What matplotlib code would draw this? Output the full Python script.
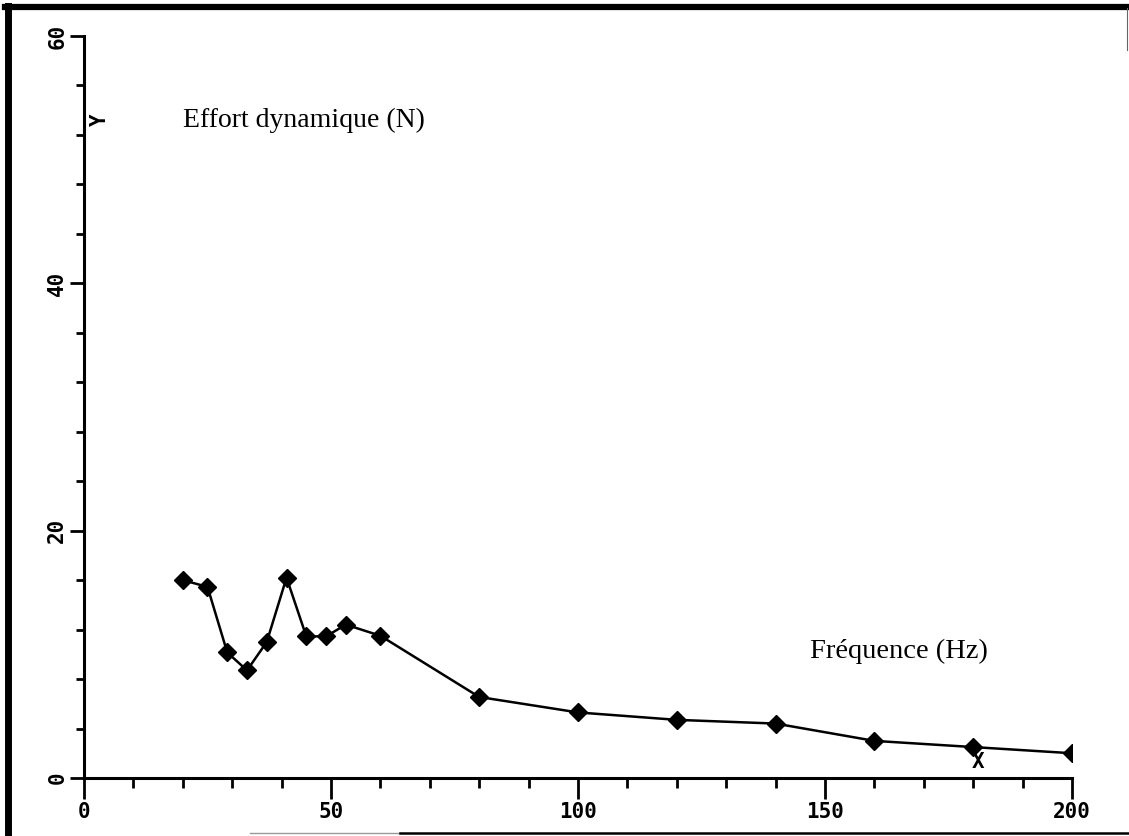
import numpy as np
import matplotlib.pyplot as plt
from matplotlib.lines import Line2D

# donnees
frequence = [20, 25, 29, 33, 37, 41, 45, 49, 53, 60, 80, 100, 120, 140, 160, 180, 200]
effort = [16.0, 15.45, 10.15, 8.7, 11.0, 16.2, 11.45, 11.45, 12.4, 11.5,
          6.55, 5.3, 4.7, 4.4, 3.0, 2.5, 2.0]
x_labels = ["0", "50", "100", "150", "200"]
y_labels = ["0", "20", "40", "60"]

fig = plt.figure(figsize=(11.29, 8.36), dpi=100)
ax = fig.add_axes([0.0744, 0.0694, 0.8751, 0.8876])

ax.plot(frequence, effort, color="black", linewidth=1.8, marker="D",
        markersize=9, markerfacecolor="black", markeredgecolor="black")

ax.set_xlim(0, 200)
ax.set_ylim(0, 60)
for s in ["top", "right"]:
    ax.spines[s].set_visible(False)
for s in ["left", "bottom"]:
    ax.spines[s].set_linewidth(2.2)

tick_font = dict(family="DejaVu Sans Mono", weight="bold", size=15)
ax.set_xticks([0, 50, 100, 150, 200])
ax.set_xticklabels(x_labels, **tick_font)
ax.set_xticks(np.arange(0, 201, 10), minor=True)
ax.set_yticks([0, 20, 40, 60])
ax.set_yticklabels(y_labels, rotation=90, va="center", **tick_font)
ax.set_yticks(np.arange(0, 61, 4), minor=True)
ax.tick_params(axis="x", which="major", direction="out", length=15, width=2, pad=2)
ax.tick_params(axis="x", which="minor", direction="out", length=7, width=2)
ax.tick_params(axis="y", which="major", direction="out", length=10, width=2, pad=2)
ax.tick_params(axis="y", which="minor", direction="out", length=6, width=2)

# etiquettes des axes
ax.text(1.2, 53.2, "Y", rotation=90, ha="left", va="center",
        family="DejaVu Sans Mono", weight="bold", fontsize=15)
ax.text(181, 1.3, "X", ha="center", va="center",
        family="DejaVu Sans Mono", weight="bold", fontsize=15)
ax.text(20, 53.2, "Effort dynamique (N)", ha="left", va="center",
        family="Liberation Serif", fontsize=20)
ax.text(147, 10.2, "Fréquence (Hz)", ha="left", va="center",
        family="Liberation Serif", fontsize=20.5)

# cadre de la page
W, H = 1129, 836
fig.add_artist(Line2D([8 / W, 8 / W], [0, 1 - 6 / H], color="black", linewidth=5))
fig.add_artist(Line2D([5 / W, 1], [1 - 7 / H, 1 - 7 / H], color="black", linewidth=4.5))
fig.add_artist(Line2D([1127 / W, 1127 / W], [1 - 8 / H, 1 - 50 / H], color="0.4", linewidth=0.8))
fig.add_artist(Line2D([250 / W, 400 / W], [3 / H, 3 / H], color="0.6", linewidth=1))
fig.add_artist(Line2D([400 / W, 1], [3 / H, 3 / H], color="black", linewidth=1.8))

fig.savefig("out.png", dpi=100)
